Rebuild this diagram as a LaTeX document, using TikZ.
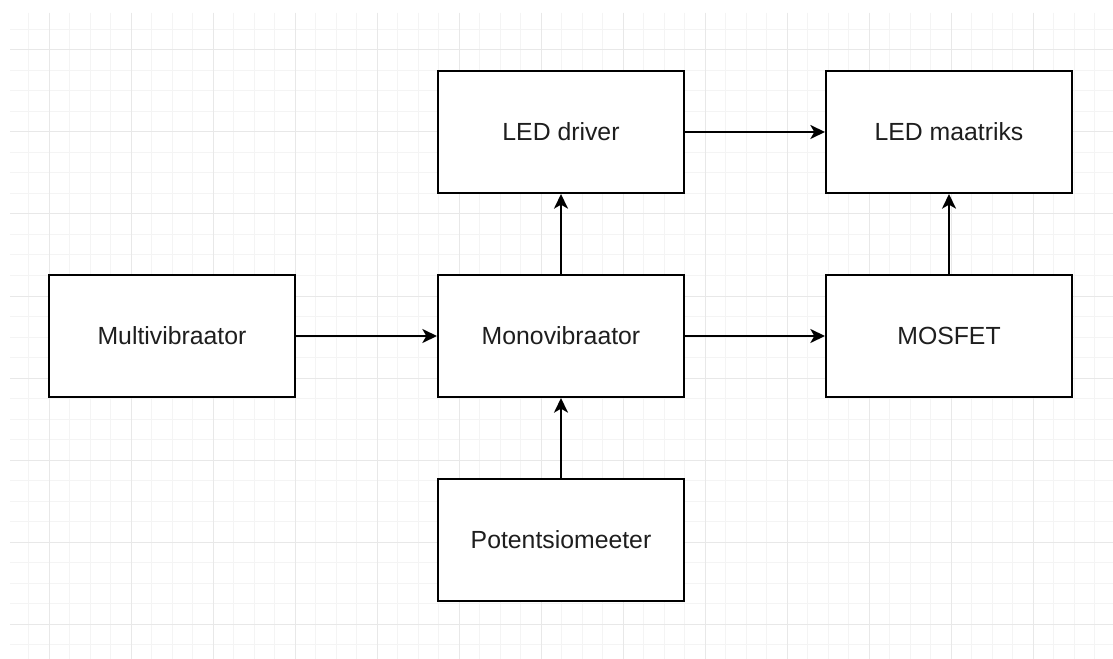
\documentclass[tikz,border=0pt]{standalone}
\usepackage{fontspec}
\setmainfont{Liberation Sans}
\usetikzlibrary{arrows.meta}
\definecolor{gridminor}{HTML}{F4F4F4}
\definecolor{gridmajor}{HTML}{E8E8E8}
\definecolor{txt}{HTML}{1E1E1E}
\begin{document}
\begin{tikzpicture}[x=0.75pt,y=-0.75pt,
  blk/.style={draw=black,fill=white,line width=1.5pt,minimum width=184.5pt,minimum height=91.5pt,inner sep=0pt,
    font=\fontsize{18.6}{22}\selectfont,text=txt},
  conn/.style={draw=black,line width=1.5pt,-{Stealth[length=11pt,width=10.5pt,inset=3pt]}}]
\fill[white] (0,0) rectangle (1113,659);
\useasboundingbox (0,0) rectangle (1113,659);
\begin{scope}
\clip (10,13) rectangle (1113,659);
\foreach \k in {-2,...,52} {
  \pgfmathsetmacro{\p}{49+20.5*\k}
  \draw[gridminor,line width=0.75pt] (\p,13) -- (\p,659);
}
\foreach \k in {-2,...,31} {
  \pgfmathsetmacro{\p}{50+20.5*\k}
  \draw[gridminor,line width=0.75pt] (10,\p) -- (1113,\p);
}
\foreach \k in {0,...,13} {
  \pgfmathsetmacro{\p}{49+82*\k}
  \draw[gridmajor,line width=0.75pt] (\p,13) -- (\p,659);
}
\foreach \k in {0,...,7} {
  \pgfmathsetmacro{\p}{50+82*\k}
  \draw[gridmajor,line width=0.75pt] (10,\p) -- (1113,\p);
}
\end{scope}
\node[blk] (drv) at (561,132) {LED driver};
\node[blk] (mat) at (949,132) {LED maatriks};
\node[blk] (multi) at (172,336) {Multivibraator};
\node[blk] (mono) at (561,336) {Monovibraator};
\node[blk] (mos) at (949,336) {MOSFET};
\node[blk] (pot) at (561,540) {Potentsiomeeter};
\draw[conn] (drv.east) -- (mat.west);
\draw[conn] (multi.east) -- (mono.west);
\draw[conn] (mono.east) -- (mos.west);
\draw[conn] (mono.north) -- (drv.south);
\draw[conn] (mos.north) -- (mat.south);
\draw[conn] (pot.north) -- (mono.south);
\end{tikzpicture}
\end{document}
